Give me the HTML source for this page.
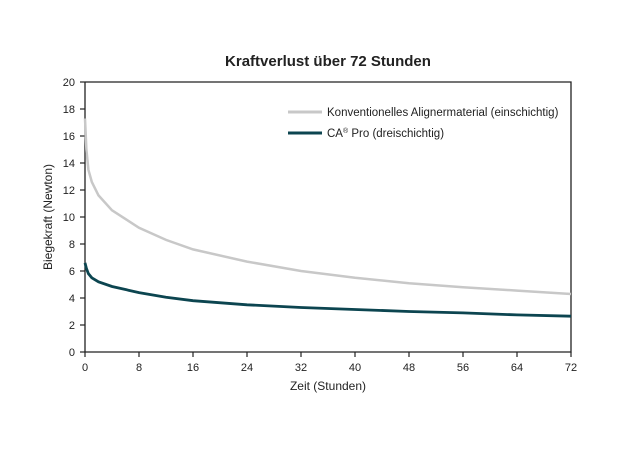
<!DOCTYPE html><html><head><style>body{margin:0;background:#fff}svg text{font-family:"Liberation Sans",sans-serif;fill:#222}</style></head><body>
<svg width="640" height="444" xmlns="http://www.w3.org/2000/svg">
<text x="328" y="66" text-anchor="middle" font-size="15" font-weight="bold" fill="#333">Kraftverlust über 72 Stunden</text>
<g fill="none" stroke="#222" stroke-width="1.3">
<polyline points="85,82 571,82 571,352 85,352 85,82"/>
</g>
<g stroke="#222" stroke-width="1.2">
<line x1="80" y1="352" x2="85" y2="352"/><line x1="80" y1="325" x2="85" y2="325"/><line x1="80" y1="298" x2="85" y2="298"/><line x1="80" y1="271" x2="85" y2="271"/><line x1="80" y1="244" x2="85" y2="244"/><line x1="80" y1="217" x2="85" y2="217"/><line x1="80" y1="190" x2="85" y2="190"/><line x1="80" y1="163" x2="85" y2="163"/><line x1="80" y1="136" x2="85" y2="136"/><line x1="80" y1="109" x2="85" y2="109"/><line x1="80" y1="82" x2="85" y2="82"/>
<line x1="85" y1="352" x2="85" y2="357"/><line x1="139" y1="352" x2="139" y2="357"/><line x1="193" y1="352" x2="193" y2="357"/><line x1="247" y1="352" x2="247" y2="357"/><line x1="301" y1="352" x2="301" y2="357"/><line x1="355" y1="352" x2="355" y2="357"/><line x1="409" y1="352" x2="409" y2="357"/><line x1="463" y1="352" x2="463" y2="357"/><line x1="517" y1="352" x2="517" y2="357"/><line x1="571" y1="352" x2="571" y2="357"/>
</g>
<g font-size="11" text-anchor="end">
<text x="75" y="356">0</text><text x="75" y="329">2</text><text x="75" y="302">4</text><text x="75" y="275">6</text><text x="75" y="248">8</text><text x="75" y="221">10</text><text x="75" y="194">12</text><text x="75" y="167">14</text><text x="75" y="140">16</text><text x="75" y="113">18</text><text x="75" y="86">20</text>
</g>
<g font-size="11" text-anchor="middle">
<text x="85" y="371">0</text><text x="139" y="371">8</text><text x="193" y="371">16</text><text x="247" y="371">24</text><text x="301" y="371">32</text><text x="355" y="371">40</text><text x="409" y="371">48</text><text x="463" y="371">56</text><text x="517" y="371">64</text><text x="571" y="371">72</text>
</g>
<text x="328" y="390" text-anchor="middle" font-size="12">Zeit (Stunden)</text>
<text transform="translate(52,217) rotate(-90)" text-anchor="middle" font-size="12">Biegekraft (Newton)</text>
<polyline fill="none" stroke="#c8c8c8" stroke-width="2.5" points="85,118.5 86.4,149.5 88.4,169.8 91.8,181.9 98.5,195.4 112,210.3 139,227.8 166,239.9 193,249.4 247,261.6 301,271 355,277.8 409,283.2 463,287.2 517,290.6 571,294"/>
<polyline fill="none" stroke="#0c4550" stroke-width="2.8" points="85,262.9 86.4,268.3 88.4,273.7 91.8,277.8 98.5,281.8 112,286.5 139,292.6 166,297.3 193,300.7 247,304.8 301,307.5 355,309.5 409,311.5 463,312.9 517,314.9 571,316.2"/>
<line x1="288" y1="112" x2="322" y2="112" stroke="#c8c8c8" stroke-width="3"/>
<line x1="288" y1="133" x2="322" y2="133" stroke="#0c4550" stroke-width="3"/>
<text x="327" y="116" font-size="11.5">Konventionelles Alignermaterial (einschichtig)</text>
<text x="327" y="137" font-size="11.5">CA<tspan font-size="7" dy="-4">®</tspan><tspan dy="4"> Pro (dreischichtig)</tspan></text>
</svg></body></html>
